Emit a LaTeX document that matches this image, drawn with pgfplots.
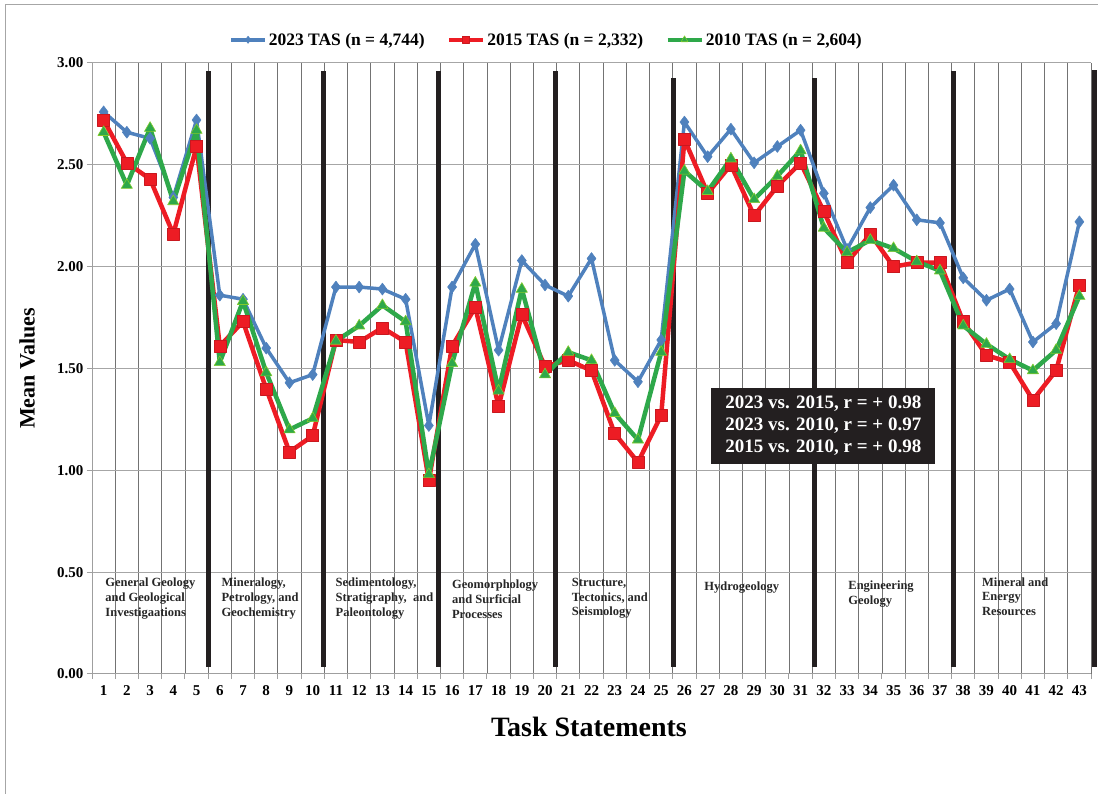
\documentclass[border=0pt]{standalone}
\usepackage{fontspec}
\setmainfont{Liberation Serif}
\usepackage{pgfplots}
\pgfplotsset{compat=1.18}
\definecolor{c23}{RGB}{79,129,189}
\definecolor{c15}{RGB}{237,28,36}
\definecolor{c10}{RGB}{46,168,74}
\definecolor{boxbg}{RGB}{35,31,32}
\begin{document}
\begin{tikzpicture}
\path[use as bounding box] (0,0) rectangle (1098pt,794pt);
\draw[gray!70, line width=1pt] (5pt,0) -- (5pt,789pt) -- (1098pt,789pt);
\begin{axis}[
 at={(92pt,120pt)}, anchor=south west,
 width=999pt, height=611pt, scale only axis,
 xmin=0.5, xmax=43.5, ymin=0, ymax=3,
 clip=false,
 axis lines*=left,
 axis line style={gray!75, line width=1pt},
 xtick={1,...,43},
 ytick={0,0.5,1,1.5,2,2.5,3},
 minor xtick={0.5,1.5,...,43.5},
 xminorgrids, ymajorgrids,
 minor grid style={black!55, line width=0.8pt},
 major grid style={gray!70, line width=1pt},
 tick align=outside,
 major x tick style={draw=none},
 minor x tick style={gray!75, line width=1pt},
 major y tick style={gray!75, line width=1pt},
 minor tick length=5pt, major tick length=5pt,
 ticklabel style={font=\fontsize{15}{15}\selectfont\bfseries},
 xticklabel style={yshift=-3pt},
 /pgf/number format/assume math mode=true,
 yticklabel style={/pgf/number format/fixed, /pgf/number format/fixed zerofill, /pgf/number format/precision=2},
 xlabel={Task Statements},
 xlabel style={at={(axis description cs:0.4975,-0.0867)}, anchor=center, font=\fontsize{28}{28}\selectfont\bfseries},
 ylabel={Mean Values},
 ylabel style={at={(axis description cs:-0.065,0.5)}, anchor=center, font=\fontsize{22}{22}\selectfont\bfseries},
 legend style={at={(axis description cs:0.455,1.038)}, anchor=center, draw=none, fill=none,
   font=\fontsize{17.5}{17.5}\selectfont\bfseries,
   /tikz/every even column/.append style={column sep=20pt},
   /tikz/every odd column/.append style={column sep=0pt}},
 legend columns=3,
 legend image code/.code={\draw[mark repeat=2,mark phase=2,#1,every mark/.append style={scale=0.6}] plot coordinates {(0pt,0pt) (17pt,0pt) (34pt,0pt)};},
]
% thick separators
\addplot[boxbg, line width=5pt, forget plot] coordinates {(5.52,0.036) (5.52,2.963)};
\addplot[boxbg, line width=5pt, forget plot] coordinates {(10.45,0.036) (10.45,2.963)};
\addplot[boxbg, line width=5pt, forget plot] coordinates {(15.43,0.036) (15.43,2.963)};
\addplot[boxbg, line width=5pt, forget plot] coordinates {(20.46,0.036) (20.46,2.963)};
\addplot[boxbg, line width=5pt, forget plot] coordinates {(25.53,0.036) (25.53,2.925)};
\addplot[boxbg, line width=5pt, forget plot] coordinates {(31.6,0.036) (31.6,2.924)};
\addplot[boxbg, line width=5pt, forget plot] coordinates {(37.56,0.036) (37.56,2.96)};
\addplot[boxbg, line width=5pt, forget plot] coordinates {(43.65,0.036) (43.65,2.965)};

\addplot[c23, line width=3.5pt, line join=round, mark=diamond*, mark size=6pt, mark options={fill=c23, draw=c23, line width=0.5pt}] coordinates {
(1,2.76) (2,2.66) (3,2.63) (4,2.34) (5,2.72) (6,1.86) (7,1.84) (8,1.60) (9,1.43) (10,1.47)
(11,1.90) (12,1.90) (13,1.89) (14,1.84) (15,1.22) (16,1.90) (17,2.11) (18,1.59) (19,2.03) (20,1.91)
(21,1.855) (22,2.04) (23,1.54) (24,1.435) (25,1.64) (26,2.71) (27,2.54) (28,2.675) (29,2.51) (30,2.59)
(31,2.67) (32,2.36) (33,2.085) (34,2.29) (35,2.40) (36,2.23) (37,2.215) (38,1.945) (39,1.835) (40,1.89)
(41,1.63) (42,1.72) (43,2.22)};
\addlegendentry{2023 TAS (n = 4,744)}

\addplot[c15, line width=4.5pt, line join=round, mark=square*, mark size=6pt, mark options={fill=c15, draw=c15!85!black, line width=0.5pt}] coordinates {
(1,2.72) (2,2.51) (3,2.43) (4,2.16) (5,2.59) (6,1.61) (7,1.73) (8,1.40) (9,1.09) (10,1.17)
(11,1.64) (12,1.63) (13,1.70) (14,1.63) (15,0.95) (16,1.61) (17,1.80) (18,1.315) (19,1.765) (20,1.51)
(21,1.54) (22,1.49) (23,1.18) (24,1.04) (25,1.27) (26,2.625) (27,2.36) (28,2.50) (29,2.25) (30,2.395)
(31,2.51) (32,2.27) (33,2.02) (34,2.16) (35,2.00) (36,2.02) (37,2.02) (38,1.73) (39,1.565) (40,1.53)
(41,1.345) (42,1.49) (43,1.91)};
\addlegendentry{2015 TAS (n = 2,332)}

\addplot[c10, line width=4.5pt, line join=round, mark=triangle*, mark size=6.5pt, mark options={fill=c10, draw=c10!60!yellow, line width=0.6pt}] coordinates {
(1,2.66) (2,2.40) (3,2.68) (4,2.32) (5,2.67) (6,1.53) (7,1.83) (8,1.48) (9,1.20) (10,1.255)
(11,1.635) (12,1.71) (13,1.81) (14,1.73) (15,0.98) (16,1.525) (17,1.92) (18,1.39) (19,1.89) (20,1.47)
(21,1.58) (22,1.54) (23,1.28) (24,1.15) (25,1.58) (26,2.47) (27,2.37) (28,2.53) (29,2.33) (30,2.445)
(31,2.57) (32,2.19) (33,2.07) (34,2.13) (35,2.09) (36,2.025) (37,1.98) (38,1.71) (39,1.62) (40,1.545)
(41,1.49) (42,1.59) (43,1.855)};
\addlegendentry{2010 TAS (n = 2,604)}

% category labels
\begin{scope}[every node/.style={anchor=north west, inner sep=0pt, align=left, text=black!85, font=\fontsize{12.5}{14.7}\selectfont\bfseries}]
\node at (axis cs:1.07,0.471) {General Geology\\and Geological\\Investigaations};
\node at (axis cs:6.07,0.471) {Mineralogy,\\Petrology, and\\Geochemistry};
\node at (axis cs:10.98,0.471) {Sedimentology,\\Stratigraphy, \ and\\Paleontology};
\node at (axis cs:15.99,0.461) {Geomorphology\\and Surficial\\Processes};
\node at (axis cs:21.15,0.471) {Structure,\\Tectonics, and\\Seismology};
\node at (axis cs:26.85,0.453) {Hydrogeology};
\node at (axis cs:33.05,0.458) {Engineering\\Geology};
\node at (axis cs:38.8,0.475) {Mineral and\\Energy\\Resources};
\end{scope}

\node[fill=boxbg, text=white, inner sep=0pt, minimum width=224pt, minimum height=76pt, align=left,
 font=\fontsize{19}{21.7}\selectfont\bfseries] at (axis cs:31.98,1.22)
 {2023 vs. 2015, r = + 0.98\\2023 vs. 2010, r = + 0.97\\2015 vs. 2010, r = + 0.98};
\end{axis}
\end{tikzpicture}
\end{document}
